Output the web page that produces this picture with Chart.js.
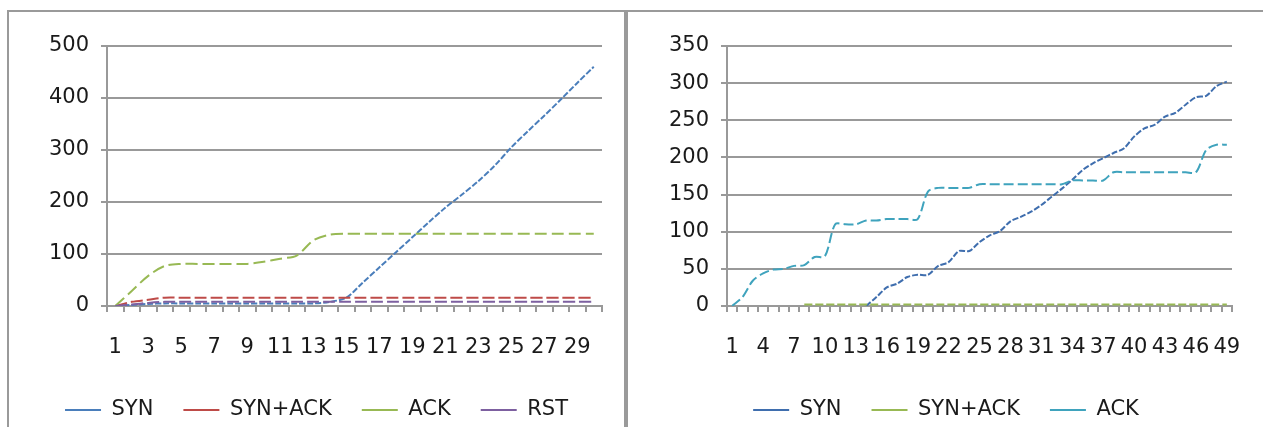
<!DOCTYPE html>
<html>
<head>
<meta charset="utf-8">
<script src="https://cdn.jsdelivr.net/npm/chart.js@4.4.1/dist/chart.umd.min.js"></script>
<style>
  html, body { margin: 0; padding: 0; background: #fff; overflow: hidden; width: 1263px; height: 427px; }
  .frame { position: absolute; top: 10px; border: 2px solid #9a9a9a; border-bottom: none; height: 440px; }
  #f1 { left: 7px; width: 615px; }
  #f2 { left: 626px; width: 650px; }
  canvas { display: block; }
</style>
</head>
<body>
<div class="frame" id="f1"><canvas id="left" width="615" height="450"></canvas></div>
<div class="frame" id="f2"><canvas id="right" width="636" height="450"></canvas></div>
<script>
// left chart: 30 samples
const catsA = ['1','2','3','4','5','6','7','8','9','10','11','12','13','14','15',
  '16','17','18','19','20','21','22','23','24','25','26','27','28','29','30'];
const synA = [0, 2, 4, 5, 5, 5, 5, 5, 5, 5, 5, 5, 5, 8, 16,
  45, 74, 103, 132, 161, 189, 214, 240, 270, 305, 336, 366, 397, 429, 460];
const synAckA = [0, 8, 12, 16, 16, 16, 16, 16, 16, 16, 16, 16, 16, 16, 16,
  16, 16, 16, 16, 16, 16, 16, 16, 16, 16, 16, 16, 16, 16, 16];
const ackA = [0, 29, 58, 77, 81, 81, 81, 81, 81, 85, 91, 97, 126, 137, 139,
  139, 139, 139, 139, 139, 139, 139, 139, 139, 139, 139, 139, 139, 139, 139];
const rstA = [0, 3, 6, 8, 8, 8, 8, 8, 8, 8, 8, 8, 8, 8, 8,
  8, 8, 8, 8, 8, 8, 8, 8, 8, 8, 8, 8, 8, 8, 8];
const yTicksA = [0, 100, 200, 300, 400, 500];

// right chart: 49 samples
const catsB = ['1','2','3','4','5','6','7','8','9','10','11','12','13','14','15','16','17',
  '18','19','20','21','22','23','24','25','26','27','28','29','30','31','32','33',
  '34','35','36','37','38','39','40','41','42','43','44','45','46','47','48','49'];
const synB = [null, null, null, null, null, null, null, null, null, null, null, null, null,
  0, 12, 25, 30, 39, 42, 42, 54, 59, 74, 74, 86, 95, 101, 114, 120, 127, 136, 147,
  158, 170, 183, 192, 199, 206, 212, 228, 239, 244, 255, 260, 271, 281, 283, 296, 302];
const synAckB = [null, null, null, null, null, null, null,
  2, 2, 2, 2, 2, 2, 2, 2, 2, 2, 2, 2, 2, 2, 2, 2, 2, 2, 2, 2, 2, 2, 2, 2, 2,
  2, 2, 2, 2, 2, 2, 2, 2, 2, 2, 2, 2, 2, 2, 2, 2, 2, 2, 2];
const ackB = [0, 12, 34, 44, 49, 50, 54, 55, 66, 67, 110, 110, 110, 115, 115, 117, 117,
  117, 117, 154, 159, 159, 159, 159, 164, 164, 164, 164, 164, 164, 164, 164, 164,
  169, 169, 169, 169, 180, 180, 180, 180, 180, 180, 180, 180, 180, 210, 217, 217];
const yTicksB = [0, 50, 100, 150, 200, 250, 300, 350];

const GRID = '#999999';
const TXT = '#1a1a1a';
Chart.defaults.font.family = "'DejaVu Sans', 'Liberation Sans', sans-serif";
Chart.defaults.font.size = 21;

function makeChart(id, cats, series, yTicks, every, side, axisW) {
  return new Chart(document.getElementById(id), {
    type: 'line',
    data: {
      labels: cats,
      datasets: series.map((s, i) => ({
        label: s.label,
        data: s.data,
        borderColor: s.color,
        backgroundColor: s.color,
        borderWidth: 2,
        borderDash: s.dash,
        pointRadius: 0,
        tension: 0.3,
        order: -i   // later series on top, like Excel
      }))
    },
    options: {
      responsive: false,
      animation: false,
      layout: { padding: { left: side, right: side, top: 34, bottom: 31.5 } },
      plugins: {
        tooltip: { enabled: false },
        legend: {
          position: 'bottom',
          labels: {
            boxWidth: 36,
            boxHeight: 2,
            padding: 30,
            color: TXT,
            sort: (a, b) => a.datasetIndex - b.datasetIndex,
            generateLabels: chart =>
              Chart.defaults.plugins.legend.labels.generateLabels(chart).map(l =>
                Object.assign(l, { lineWidth: 0, lineDash: [], fillStyle: l.strokeStyle }))
          }
        }
      },
      scales: {
        x: {
          offset: true,
          grid: { offset: true, drawOnChartArea: false, tickLength: 6, color: GRID, lineWidth: 2 },
          border: { color: GRID, width: 2 },
          ticks: {
            autoSkip: false, maxRotation: 0, minRotation: 0, padding: 23, color: TXT,
            callback: (v, i) => (i % every === 0 ? cats[i] : '')
          },
          afterFit: s => { s.height = 63.5; }
        },
        y: {
          min: yTicks[0],
          max: yTicks[yTicks.length - 1],
          grid: { tickLength: 6, color: GRID, lineWidth: 2 },
          border: { color: GRID, width: 2 },
          ticks: { stepSize: yTicks[1] - yTicks[0], padding: 12, color: TXT },
          afterFit: s => { s.width = axisW; }
        }
      }
    }
  });
}

makeChart('left', catsA, [
  { label: 'SYN', data: synA, color: '#4a7ebb', dash: [6, 2] },
  { label: 'SYN+ACK', data: synAckA, color: '#be4b48', dash: [12, 4] },
  { label: 'ACK', data: ackA, color: '#98b954', dash: [12, 5] },
  { label: 'RST', data: rstA, color: '#7d60a0', dash: [12, 4] }
], yTicksA, 2, 22, 76);

makeChart('right', catsB, [
  { label: 'SYN', data: synB, color: '#3f6eae', dash: [6, 2] },
  { label: 'SYN+ACK', data: synAckB, color: '#98b954', dash: [8, 3] },
  { label: 'ACK', data: ackB, color: '#3fa3bd', dash: [10, 4] }
], yTicksB, 3, 32, 67);
</script>
</body>
</html>
